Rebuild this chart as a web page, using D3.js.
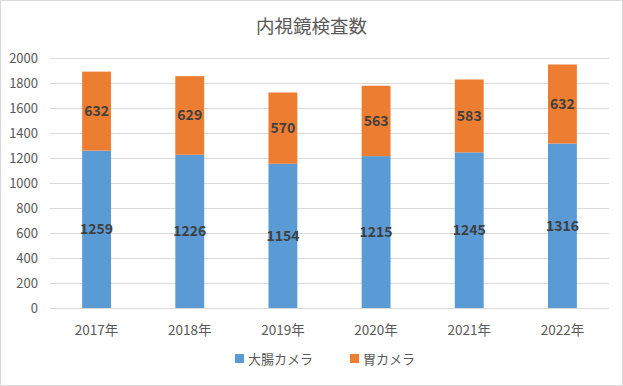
<!DOCTYPE html>
<html>
<head>
<meta charset="utf-8">
<script src="https://cdn.jsdelivr.net/npm/d3@7"></script>
<style>
body { margin: 0; background: #fff; }
svg { display: block; font-family: "Noto Sans CJK JP", "Liberation Sans", sans-serif; }
</style>
</head>
<body>
<svg id="chart"></svg>
<script>
var years = ["2017年", "2018年", "2019年", "2020年", "2021年", "2022年"];
var colon = [1259, 1226, 1154, 1215, 1245, 1316];
var stomach = [632, 629, 570, 563, 583, 632];
var seriesNames = ["大腸カメラ", "胃カメラ"];
var yTicks = [0, 200, 400, 600, 800, 1000, 1200, 1400, 1600, 1800, 2000];

var width = 623,
    height = 386;
var margin = {top: 58, right: 14, bottom: 78, left: 50};

var color = ["#5b9bd5", "#ed7d31"];

var svg = d3.select("#chart")
  .attr("width", width)
  .attr("height", height);

// chart border
svg.append("rect")
  .attr("x", 0.5).attr("y", 0.5)
  .attr("width", width - 1).attr("height", height - 1)
  .attr("fill", "#fff")
  .attr("stroke", "#d9d9d9");

var x = d3.scaleBand()
  .domain(years)
  .range([margin.left, width - margin.right])
  .paddingInner(0.69)
  .paddingOuter(0.345);

var y = d3.scaleLinear()
  .domain([0, 2000])
  .range([height - margin.bottom, margin.top]);

// gridlines
svg.append("g")
  .selectAll("line")
  .data(yTicks)
  .enter().append("line")
  .attr("x1", margin.left)
  .attr("x2", width - margin.right)
  .attr("y1", function(d) { return Math.round(y(d)) + 0.5; })
  .attr("y2", function(d) { return Math.round(y(d)) + 0.5; })
  .attr("stroke", "#d9d9d9");

// y labels
svg.append("g")
  .selectAll("text")
  .data(yTicks)
  .enter().append("text")
  .attr("x", 38)
  .attr("y", function(d) { return y(d); })
  .attr("dy", "0.35em")
  .attr("text-anchor", "end")
  .attr("font-size", 13)
  .attr("fill", "#595959")
  .text(function(d) { return d; });

// x labels
svg.append("g")
  .selectAll("text")
  .data(years)
  .enter().append("text")
  .attr("x", function(d) { return x(d) + x.bandwidth() / 2; })
  .attr("y", 330)
  .attr("dy", "0.35em")
  .attr("text-anchor", "middle")
  .attr("font-size", 13.5)
  .attr("fill", "#595959")
  .text(function(d) { return d; });

var rows = years.map(function(d, i) {
  return {year: d, colon: colon[i], stomach: stomach[i]};
});
var stack = d3.stack().keys(["colon", "stomach"]);
var layers = stack(rows);

var layer = svg.selectAll(".layer")
  .data(layers)
  .enter().append("g")
  .attr("class", "layer")
  .attr("fill", function(d, i) { return color[i]; });

layer.selectAll("rect")
  .data(function(d) { return d; })
  .enter().append("rect")
  .attr("x", function(d) { return x(d.data.year); })
  .attr("width", x.bandwidth())
  .attr("y", function(d) { return y(d[1]); })
  .attr("height", function(d) { return y(d[0]) - y(d[1]); });

layer.selectAll("text")
  .data(function(d) { return d; })
  .enter().append("text")
  .attr("x", function(d) { return x(d.data.year) + x.bandwidth() / 2; })
  .attr("y", function(d) { return (y(d[0]) + y(d[1])) / 2; })
  .attr("dy", "0.35em")
  .attr("text-anchor", "middle")
  .attr("font-size", 14)
  .attr("font-weight", "bold")
  .attr("fill", "#404040")
  .text(function(d) { return d[1] - d[0]; });

// title
svg.append("text")
  .attr("x", width / 2)
  .attr("y", 27)
  .attr("dy", "0.35em")
  .attr("text-anchor", "middle")
  .attr("font-size", 18.5)
  .attr("fill", "#595959")
  .text("内視鏡検査数");

// legend
var legendX = [235, 350];
var legend = svg.selectAll(".legend")
  .data(seriesNames)
  .enter().append("g")
  .attr("class", "legend")
  .attr("transform", function(d, i) { return "translate(" + legendX[i] + ",359)"; });

legend.append("rect")
  .attr("x", 0).attr("y", -5)
  .attr("width", 9).attr("height", 9)
  .attr("fill", function(d, i) { return color[i]; });

legend.append("text")
  .attr("x", 13)
  .attr("y", 0)
  .attr("dy", "0.35em")
  .attr("font-size", 13)
  .attr("fill", "#595959")
  .text(function(d) { return d; });
</script>
</body>
</html>
